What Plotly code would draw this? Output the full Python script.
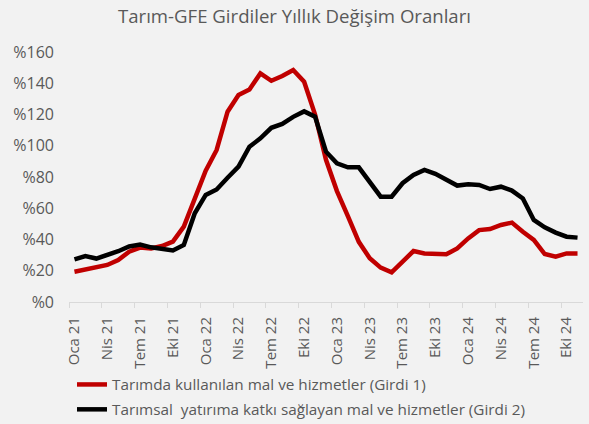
import plotly.graph_objects as go

months = ["Oca", "Şub", "Mar", "Nis", "May", "Haz", "Tem", "Ağu", "Eyl", "Eki", "Kas", "Ara"]
years = ["21", "22", "23", "24"]
categories = [f"{m} {y}" for y in years for m in months][:47]

girdi1 = [19.4, 20.9, 22.6, 23.7, 26.9, 32.2, 34.8, 34.3, 35.8, 38.6,
          48.2, 65.3, 84.0, 97.3, 121.8, 132.5, 136.0, 146.3, 141.6, 144.6,
          148.5, 141.0, 120.0, 91.0, 71.0, 55.0, 38.5, 28.0, 22.0, 19.0,
          26.0, 32.6, 31.1, 30.5, 30.5, 34.3, 40.7, 46.0, 46.7, 49.3,
          50.8, 45.0, 39.7, 30.7, 29.0, 31.1, 31.1]
girdi2 = [27.3, 29.4, 27.8, 30.0, 32.5, 35.5, 36.8, 35.0, 33.7, 33.0,
          36.5, 56.8, 68.5, 72.0, 79.5, 86.6, 99.4, 104.7, 111.5, 114.0,
          118.5, 122.0, 118.6, 96.2, 88.7, 86.2, 86.2, 77.0, 67.4, 67.4,
          76.0, 81.3, 84.5, 82.0, 78.0, 74.5, 75.3, 74.9, 72.3, 73.8,
          71.3, 66.3, 52.5, 47.8, 44.4, 41.8, 41.2]

name1 = "Tarımda kullanılan mal ve hizmetler (Girdi 1)"
name2 = "Tarımsal  yatırıma katkı sağlayan mal ve hizmetler (Girdi 2)"
title = "Tarım-GFE Girdiler Yıllık Değişim Oranları"

idx = list(range(len(categories)))
tick_idx = idx[::3]
tick_txt = [categories[i] for i in tick_idx]

FONT = "Open Sans"
GREY = "#595959"

fig = go.Figure()
fig.add_trace(go.Scatter(x=idx, y=girdi1, mode="lines", name=name1,
                         line=dict(color="#C00000", width=4.5), legendgroup="a"))
fig.add_trace(go.Scatter(x=idx, y=girdi2, mode="lines", name=name2,
                         line=dict(color="#000000", width=4.5), legendgroup="b"))

fig.update_layout(
    width=589, height=424,
    paper_bgcolor="#F2F2F2", plot_bgcolor="#F2F2F2",
    margin=dict(l=69, r=6, t=52, b=122),
    font=dict(family=FONT, color=GREY),
    title=dict(text=title, x=0.5, xref="container", xanchor="center",
               y=1 - 16.5 / 424, yref="container", yanchor="middle",
               font=dict(size=18.6, color=GREY, family=FONT)),
    legend=dict(x=3 / 514, xref="paper", xanchor="left",
                y=1 - 368 / 424, yref="container", yanchor="top",
                font=dict(size=15.3, color=GREY, family=FONT),
                bgcolor="rgba(0,0,0,0)", tracegroupgap=2, itemwidth=30),
    showlegend=True,
)

fig.update_xaxes(
    range=[-0.5, len(categories) - 0.5], automargin=False,
    tickmode="array", tickvals=tick_idx, ticktext=tick_txt,
    tickangle=-90, ticks="", showgrid=False, zeroline=False,
    showline=True, linecolor="#D9D9D9", linewidth=1,
    tickfont=dict(size=15, color=GREY, family=FONT),
    ticklabelstandoff=8,
    minor=dict(tick0=-0.5, dtick=3, ticks="outside", ticklen=5,
               tickcolor="#D9D9D9", tickwidth=1, showgrid=False),
)
fig.update_yaxes(
    range=[0, 160], dtick=20, tickprefix="%", showgrid=False, automargin=False,
    zeroline=False, showline=False, ticks="",
    tickfont=dict(size=16, color=GREY, family=FONT),
    ticklabelstandoff=14,
)

fig.write_html("out.html", config={"displayModeBar": False},
               post_script="document.body.style.margin='0';")
